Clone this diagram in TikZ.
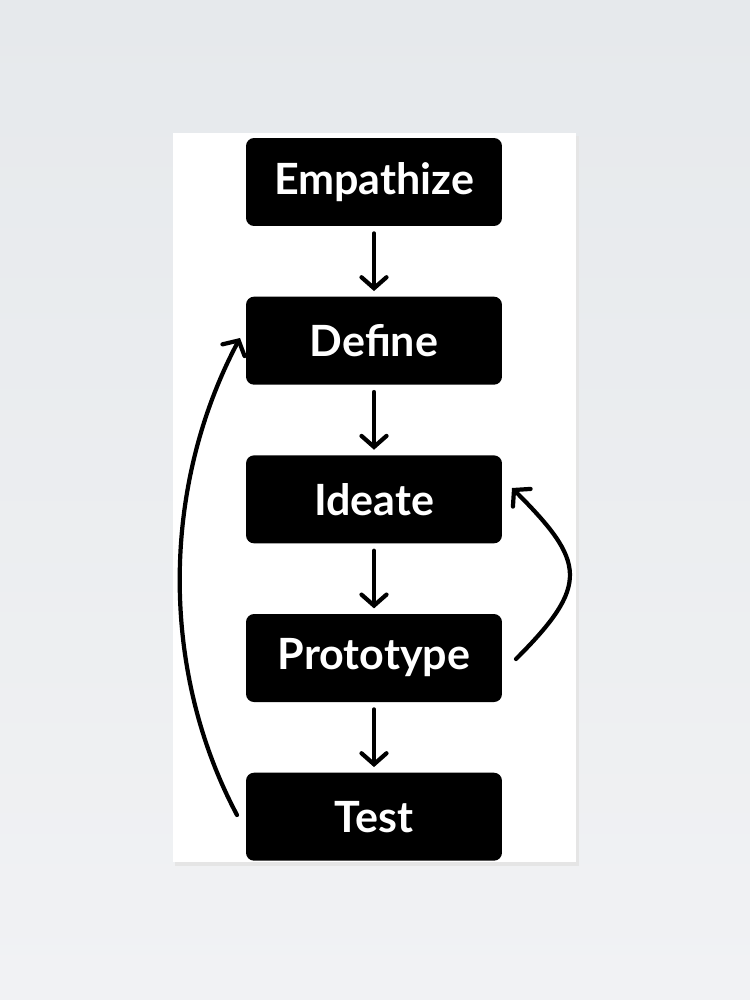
\documentclass[tikz,border=0pt]{standalone}
\usepackage{fontspec}
\setmainfont{Lato}
\usetikzlibrary{arrows.meta, positioning}
\definecolor{wall}{HTML}{E6E9EC}
\definecolor{wallb}{HTML}{F1F2F4}

\begin{document}
\begin{tikzpicture}[x=0.02cm, y=-0.02cm,
    stage/.style={fill=black, rounded corners=0.16cm, minimum width=5.12cm,
      minimum height=1.76cm, text=white,
      font=\fontsize{24.5}{28}\selectfont\bfseries},
    flow/.style={line width=2.4pt, line cap=round,
      -{Straight Barb[length=2.2mm, width=5mm, line cap=round]}},
    node distance=1.40cm]
    \useasboundingbox (0,0) rectangle (750,1000);
    % wall and poster
    \shade[top color=wall, bottom color=wallb] (0,0) rectangle (750,1000);
    \fill[black!10] (175,136) rectangle (579,866);
    \fill[white] (173,133) rectangle (576,862);
    % stages
    \node[stage] (emp) at (374,182) {Empathize};
    \node[stage, below=of emp] (def) {Define};
    \node[stage, below=of def] (ide) {Ideate};
    \node[stage, below=of ide] (pro) {Prototype};
    \node[stage, below=of pro] (tst) {Test};
    % straight arrows
    \draw[flow, shorten <=4pt, shorten >=3pt] (emp) -- (def);
    \draw[flow, shorten <=4pt, shorten >=3pt] (def) -- (ide);
    \draw[flow, shorten <=4pt, shorten >=3pt] (ide) -- (pro);
    \draw[flow, shorten <=4pt, shorten >=3pt] (pro) -- (tst);
    % loops back
    \coordinate (tstout) at (237,815);
    \coordinate (defin) at (240,338);
    \coordinate (proout) at (516,659);
    \coordinate (idein) at (512,488);
    \draw[flow] (tstout) .. controls (159,668) and (162,485) .. (defin);
    \draw[flow] (proout) .. controls (590,585) and (586,562) .. (idein);
\end{tikzpicture}
\end{document}
